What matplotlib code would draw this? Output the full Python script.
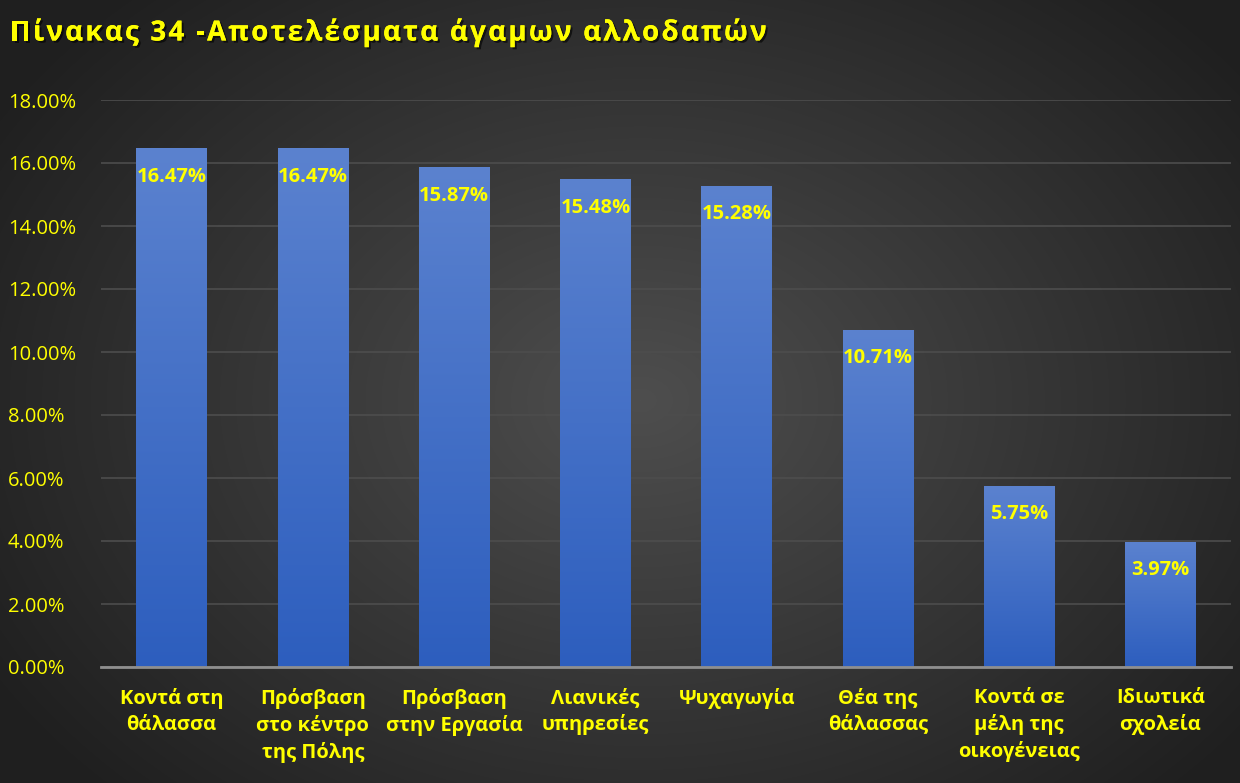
import numpy as np
import matplotlib
matplotlib.use("Agg")
import matplotlib.pyplot as plt
import matplotlib.patheffects as pe
from matplotlib.ticker import FuncFormatter

plt.rcParams['font.family'] = ['Open Sans', 'Noto Sans', 'DejaVu Sans']

title = "Πίνακας 34 -Αποτελέσματα άγαμων αλλοδαπών"
categories = ["Κοντά στη\nθάλασσα", "Πρόσβαση\nστο κέντρο\nτης Πόλης", "Πρόσβαση\nστην Εργασία",
              "Λιανικές\nυπηρεσίες", "Ψυχαγωγία", "Θέα της\nθάλασσας", "Κοντά σε\nμέλη της\nοικογένειας",
              "Ιδιωτικά\nσχολεία"]
values = [0.1647, 0.1647, 0.1587, 0.1548, 0.1528, 0.1071, 0.0575, 0.0397]
yticks = [0.0, 0.02, 0.04, 0.06, 0.08, 0.10, 0.12, 0.14, 0.16, 0.18]

W, H = 1240, 783
fig = plt.figure(figsize=(W/100, H/100), dpi=100)

# background radial gradient
bg = fig.add_axes([0, 0, 1, 1], zorder=-10)
bg.set_axis_off()
yy, xx = np.mgrid[0:H, 0:W]
r = np.sqrt(((xx - 640) / 760.0) ** 2 + ((yy - 400) / 560.0) ** 2)
r = np.clip(r, 0, 1)
c0 = np.array([0x4e, 0x4e, 0x4e]) / 255.0
c1 = np.array([0x1f, 0x1f, 0x1f]) / 255.0
img = c0[None, None, :] * (1 - r[..., None]) + c1[None, None, :] * r[..., None]
bg.imshow(img, aspect='auto', extent=[0, 1, 0, 1])
bg.set_xlim(0, 1); bg.set_ylim(0, 1)

ax = fig.add_axes([101/W, 116/H, 1130/W, 567/H])
ax.set_facecolor('none')
x = np.arange(len(values))
bars = ax.bar(x, values, width=0.5, color='none', edgecolor='none', zorder=3)

# gradient fill of bars
grad = np.linspace(0, 1, 256)[:, None]
top = np.array([0x5b, 0x82, 0xcf]) / 255.0
bot = np.array([0x2d, 0x5e, 0xbe]) / 255.0
gimg = top[None, None, :] * (1 - grad[..., None]) + bot[None, None, :] * grad[..., None]
gimg = np.repeat(gimg, 2, axis=1)
for b in bars:
    x0, y0 = b.get_x(), b.get_y()
    w, h = b.get_width(), b.get_height()
    im = ax.imshow(gimg, extent=[x0, x0 + w, y0, y0 + h], aspect='auto', zorder=3,
                   origin='upper', interpolation='bilinear')
    im.set_clip_path(b)
ax.set_xlim(-0.5, len(values) - 0.5)
ax.set_ylim(0, 0.18)

for xi, v in zip(x, values):
    ax.annotate(f"{v*100:.2f}%", (xi, v), xytext=(0, -20.5), textcoords='offset points',
                ha='center', va='center', color='#ffff00', fontsize=14.5, fontweight='bold', zorder=5)

ax.set_yticks(yticks)
ax.yaxis.set_major_formatter(FuncFormatter(lambda v, p: f"{v*100:.2f}%"))
ax.grid(axis='y', color='#4d4d4d', linewidth=1.2, zorder=0)
ax.set_axisbelow(True)
for s in ['top', 'right', 'left']:
    ax.spines[s].set_visible(False)
ax.spines['bottom'].set_color('#8f8f8f')
ax.spines['bottom'].set_linewidth(2)
ax.spines['bottom'].set_zorder(4)
ax.tick_params(axis='both', length=0, colors='#ffff00')
ax.tick_params(axis='y', labelsize=14.5, pad=0)
ax.tick_params(axis='x', pad=15)
ax.set_xticks(x)
ax.set_xticklabels(categories, fontweight='bold', color='#ffff00', fontsize=14.5, linespacing=1.38, va='top')
for lab in ax.get_yticklabels():
    lab.set_horizontalalignment('left')
    lab.set_transform(matplotlib.transforms.blended_transform_factory(fig.transFigure, ax.transData))
    lab.set_x(8/W)

# title with letter spacing
fig.canvas.draw()
renderer = fig.canvas.get_renderer()
xpos = 10.0
extra = 2.2
for ch in title:
    t = fig.text(xpos / W, 1 - 33/H, ch, color='#ffff00', fontsize=20, fontweight='bold', va='center', ha='left',
                 path_effects=[pe.withSimplePatchShadow(offset=(1.5, -1.5), shadow_rgbFace='black', alpha=0.6),
                               pe.Normal()])
    if ch == ' ':
        probe = fig.text(0, 0, 'a a', fontsize=20, fontweight='bold')
        probe2 = fig.text(0, 0, 'aa', fontsize=20, fontweight='bold')
        wdt = probe.get_window_extent(renderer).width - probe2.get_window_extent(renderer).width
        probe.remove(); probe2.remove()
    else:
        wdt = t.get_window_extent(renderer).width
    xpos += wdt + extra

fig.savefig("out.png", dpi=100)
